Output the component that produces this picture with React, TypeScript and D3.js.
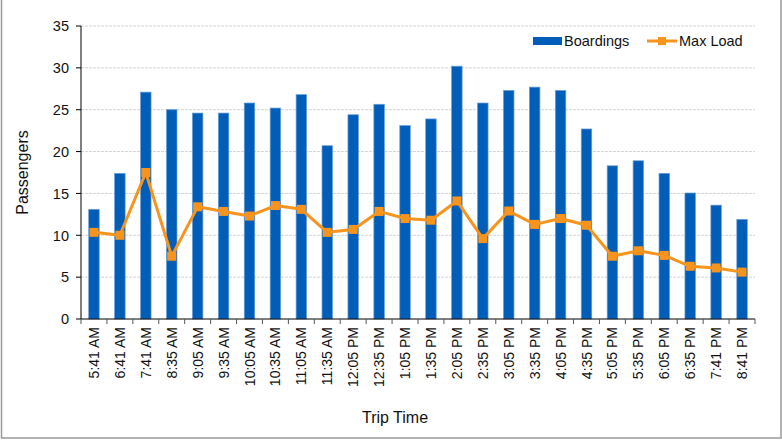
import React from "react";
import * as d3 from "d3";

const tripTimes = [
  "5:41 AM", "6:41 AM", "7:41 AM", "8:35 AM", "9:05 AM", "9:35 AM", "10:05 AM",
  "10:35 AM", "11:05 AM", "11:35 AM", "12:05 PM", "12:35 PM", "1:05 PM", "1:35 PM",
  "2:05 PM", "2:35 PM", "3:05 PM", "3:35 PM", "4:05 PM", "4:35 PM", "5:05 PM",
  "5:35 PM", "6:05 PM", "6:35 PM", "7:41 PM", "8:41 PM",
];
const boardings = [
  13.1, 17.4, 27.1, 25.0, 24.6, 24.6, 25.8, 25.2, 26.8, 20.7, 24.4, 25.65, 23.1,
  23.9, 30.2, 25.8, 27.3, 27.7, 27.3, 22.7, 18.3, 18.9, 17.4, 15.05, 13.6, 11.9,
];
const maxLoad = [
  10.35, 10.0, 17.5, 7.5, 13.4, 12.85, 12.3, 13.55, 13.1, 10.35, 10.7, 12.85, 12.0,
  11.8, 14.1, 9.6, 12.9, 11.3, 12.0, 11.2, 7.5, 8.15, 7.6, 6.3, 6.1, 5.6,
];
const yTicks = [0, 5, 10, 15, 20, 25, 30, 35];

const W = 782;
const H = 440;
const left = 81;
const right = 755;
const top = 26;
const bottom = 319;
const BLUE = "#005EB8";
const ORANGE = "#F7941D";
const FONT = "'Liberation Sans', Arial, sans-serif";

export default function App() {
  const x = d3.scaleBand<string>().domain(tripTimes).range([left, right]).paddingInner(0).paddingOuter(0);
  const y = d3.scaleLinear().domain([0, 35]).range([bottom, top]);
  const barW = 10.5;
  const cx = (t: string) => (x(t) as number) + x.bandwidth() / 2;
  const line = d3
    .line<number>()
    .x((_, i) => cx(tripTimes[i]))
    .y((d) => y(d));
  const boundaries = d3.range(tripTimes.length + 1).map((i) => left + i * x.bandwidth());

  return (
    <svg width={W} height={H} style={{ position: "absolute", left: 0, top: 0, background: "#fff" }} fontFamily={FONT}>
      <rect x={0} y={0} width={W} height={H} fill="#fff" />
      <rect x={1.5} y={-2} width={779.5} height={440} fill="none" stroke="#9a9a9a" strokeWidth={1.5} />
      {/* gridlines */}
      {yTicks.filter((t) => t > 0).map((t) => (
        <line key={t} x1={left} x2={right} y1={y(t)} y2={y(t)} stroke="#d4d4d4" strokeWidth={1} strokeDasharray="3,1" />
      ))}
      {/* bars */}
      {tripTimes.map((t, i) => (
        <rect
          key={t}
          x={cx(t) - barW / 2}
          y={y(boardings[i])}
          width={barW}
          height={bottom - y(boardings[i])}
          fill={BLUE}
          stroke="#6a9fd6"
          strokeWidth={0.7}
        />
      ))}
      {/* line */}
      <path d={line(maxLoad) || ""} fill="none" stroke={ORANGE} strokeWidth={3} strokeLinejoin="round" />
      {maxLoad.map((v, i) => (
        <rect key={i} x={cx(tripTimes[i]) - 4.5} y={y(v) - 4.5} width={9} height={9} fill={ORANGE} />
      ))}
      {/* y axis */}
      <line x1={left} x2={left} y1={top} y2={bottom} stroke="#000" strokeWidth={1} />
      {yTicks.map((t) => (
        <g key={t}>
          <line x1={left - 5} x2={left} y1={y(t)} y2={y(t)} stroke="#000" />
          <text x={69} y={y(t)} dy="0.36em" textAnchor="end" fontSize={14.5} fill="#111">
            {t}
          </text>
        </g>
      ))}
      {/* x axis */}
      <line x1={left} x2={right} y1={bottom} y2={bottom} stroke="#000" strokeWidth={1} />
      {boundaries.map((b, i) => (
        <line key={i} x1={b} x2={b} y1={bottom} y2={bottom + 5} stroke="#555" />
      ))}
      {tripTimes.map((t) => (
        <text
          key={t}
          transform={`translate(${cx(t)},${327}) rotate(-90)`}
          dy="0.36em"
          textAnchor="end"
          fontSize={14}
          fill="#111"
        >
          {t}
        </text>
      ))}
      {/* axis titles */}
      <text transform={`translate(22,${(top + bottom) / 2}) rotate(-90)`} dy="0.36em" textAnchor="middle" fontSize={16} fill="#111">
        Passengers
      </text>
      <text x={395} y={423} textAnchor="middle" fontSize={16} fill="#111">
        Trip Time
      </text>
      {/* legend */}
      <rect x={533} y={37} width={29} height={8} fill={BLUE} />
      <text x={564} y={41} dy="0.36em" fontSize={14.5} fill="#111">
        Boardings
      </text>
      <line x1={647} x2={677} y1={41} y2={41} stroke={ORANGE} strokeWidth={3} />
      <rect x={658} y={37} width={8} height={8} fill={ORANGE} />
      <text x={679} y={41} dy="0.36em" fontSize={14.5} fill="#111">
        Max Load
      </text>
    </svg>
  );
}
